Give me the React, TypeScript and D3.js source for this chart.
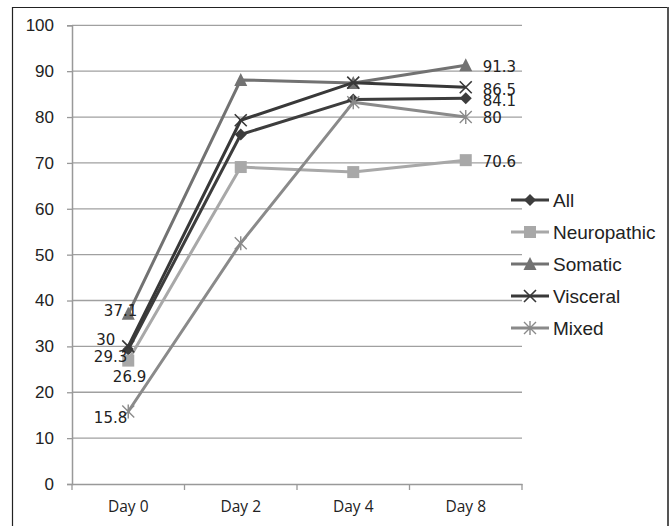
import React, { useRef, useEffect } from 'react';
import * as d3 from 'd3';

// categories and series
const days = ['Day 0', 'Day 2', 'Day 4', 'Day 8'];
const allValues = [29.3, 76.2, 83.8, 84.1];
const neuropathicValues = [26.9, 69.1, 68.0, 70.6];
const somaticValues = [37.1, 88.1, 87.4, 91.3];
const visceralValues = [30, 79.3, 87.5, 86.5];
const mixedValues = [15.8, 52.5, 83.2, 80];
const yTicks = [0, 10, 20, 30, 40, 50, 60, 70, 80, 90, 100];

type Marker = 'diamond' | 'square' | 'triangle' | 'x' | 'star';

interface Series {
  name: string;
  values: number[];
  color: string;
  marker: Marker;
  // label offsets for first / last point (only those are labelled)
  first: [number, number];
  last: [number, number];
}

const series: Series[] = [
  { name: 'All', values: allValues, color: '#3d3d3d', marker: 'diamond', first: [-1, 7], last: [17, 3] },
  { name: 'Neuropathic', values: neuropathicValues, color: '#a8a8a8', marker: 'square', first: [18, 16], last: [17, 2] },
  { name: 'Somatic', values: somaticValues, color: '#727272', marker: 'triangle', first: [9, -3], last: [17, 2] },
  { name: 'Visceral', values: visceralValues, color: '#383838', marker: 'x', first: [-13, -7], last: [17, 3] },
  { name: 'Mixed', values: mixedValues, color: '#8a8a8a', marker: 'star', first: [-1, 6], last: [17, 1] },
];

function drawMarker(g: d3.Selection<SVGGElement, unknown, null, undefined>, kind: Marker, color: string) {
  if (kind === 'diamond') {
    g.append('path').attr('d', 'M0,-6L6,0L0,6L-6,0Z').attr('fill', color);
  } else if (kind === 'square') {
    g.append('rect').attr('x', -6).attr('y', -6).attr('width', 12).attr('height', 12).attr('fill', color);
  } else if (kind === 'triangle') {
    g.append('path').attr('d', 'M0,-7L6.5,6L-6.5,6Z').attr('fill', color);
  } else if (kind === 'x') {
    g.append('path').attr('d', 'M-6,-6L6,6M6,-6L-6,6').attr('stroke', color).attr('stroke-width', 1.6).attr('fill', 'none');
  } else {
    g.append('path').attr('d', 'M-6,-6L6,6M6,-6L-6,6M0,-7L0,7').attr('stroke', color).attr('stroke-width', 1.4).attr('fill', 'none');
  }
}

export default function App() {
  const svgRef = useRef<SVGSVGElement>(null);

  useEffect(() => {
    if (!svgRef.current) return;
    const svg = d3.select(svgRef.current);
    svg.selectAll('*').remove();

    const W = 672;
    const H = 526;
    svg.attr('width', W).attr('height', H);

    svg.append('rect').attr('width', W).attr('height', H).attr('fill', '#fff');

    // outer frame
    svg.append('path')
      .attr('d', `M12.5,${H}L12.5,7.5L668,7.5L668,${H}`)
      .attr('fill', 'none')
      .attr('stroke', '#222')
      .attr('stroke-width', 1.2);
    svg.append('line')
      .attr('x1', 668).attr('x2', 668).attr('y1', 7).attr('y2', H)
      .attr('stroke', '#555').attr('stroke-width', 2);

    const left = 72;
    const right = 522;
    const top = 25.3;
    const bottom = 484;

    const x = d3.scaleBand().domain(days).range([left, right]);
    const y = d3.scaleLinear().domain([0, 100]).range([bottom, top]);
    const cx = (d: string) => (x(d) || 0) + x.bandwidth() / 2;

    // gridlines
    svg.append('g')
      .selectAll('line')
      .data(yTicks.filter(t => t > 0))
      .enter()
      .append('line')
      .attr('x1', left).attr('x2', right)
      .attr('y1', d => y(d)).attr('y2', d => y(d))
      .attr('stroke', '#a0a0a0')
      .attr('stroke-width', 1.3);

    // y axis
    const yAxis = svg.append('g')
      .attr('transform', `translate(${left},0)`)
      .call(d3.axisLeft(y).tickValues(yTicks).tickSize(5).tickPadding(13).tickFormat(d => `${d}`));
    yAxis.select('.domain').attr('stroke', '#999').attr('stroke-width', 1.5);
    yAxis.selectAll('.tick line').attr('stroke', '#999').attr('stroke-width', 1.3);
    yAxis.selectAll('text')
      .attr('fill', '#222')
      .style('font-family', '"Liberation Sans", Arial, sans-serif')
      .style('font-size', '17px');

    // x axis
    const xAxis = svg.append('g')
      .attr('transform', `translate(0,${bottom})`)
      .call(d3.axisBottom(x).tickSize(0).tickPadding(17));
    xAxis.select('.domain').attr('stroke', '#999').attr('stroke-width', 1.5);
    xAxis.selectAll('text')
      .attr('fill', '#222')
      .style('font-family', '"Open Sans", sans-serif')
      .style('font-size', '15.5px');
    svg.append('g')
      .selectAll('line')
      .data([...days.map(d => x(d) || 0), right])
      .enter()
      .append('line')
      .attr('x1', d => d).attr('x2', d => d)
      .attr('y1', bottom).attr('y2', bottom + 6)
      .attr('stroke', '#999').attr('stroke-width', 1.3);

    const line = d3.line<number>()
      .x((_, i) => cx(days[i]))
      .y(d => y(d));

    series.forEach(s => {
      const g = svg.append('g');
      g.append('path')
        .datum(s.values)
        .attr('d', line)
        .attr('fill', 'none')
        .attr('stroke', s.color)
        .attr('stroke-width', 3)
        .attr('stroke-linejoin', 'round');
      s.values.forEach((v, i) => {
        const mg = g.append('g').attr('transform', `translate(${cx(days[i])},${y(v)})`);
        drawMarker(mg, s.marker, s.color);
      });
    });

    // data labels on first and last points
    const labels = svg.append('g')
      .style('font-family', '"DejaVu Sans", Verdana, sans-serif')
      .style('font-size', '15px')
      .attr('fill', '#222');
    series.forEach(s => {
      const n = s.values.length - 1;
      labels.append('text')
        .attr('x', cx(days[0]) + s.first[0])
        .attr('y', y(s.values[0]) + s.first[1])
        .attr('dy', '0.35em')
        .attr('text-anchor', 'end')
        .text(`${s.values[0]}`);
      labels.append('text')
        .attr('x', cx(days[n]) + s.last[0])
        .attr('y', y(s.values[n]) + s.last[1])
        .attr('dy', '0.35em')
        .text(`${s.values[n]}`);
    });

    // legend
    const legendY = d3.scalePoint().domain(series.map(s => s.name)).range([200, 328]);
    const legend = svg.append('g');
    series.forEach(s => {
      const ly = legendY(s.name) || 0;
      legend.append('line')
        .attr('x1', 511).attr('x2', 549)
        .attr('y1', ly).attr('y2', ly)
        .attr('stroke', s.color).attr('stroke-width', 3);
      const mg = legend.append('g').attr('transform', `translate(530,${ly})`);
      drawMarker(mg, s.marker, s.color);
      legend.append('text')
        .attr('x', 553)
        .attr('y', ly)
        .attr('dy', '0.35em')
        .attr('fill', '#222')
        .style('font-family', '"Liberation Sans", Arial, sans-serif')
        .style('font-size', '19px')
        .text(s.name);
    });
  }, []);

  return (
    <div style={{ position: 'absolute', left: 0, top: 0 }}>
      <svg ref={svgRef} style={{ display: 'block' }} />
    </div>
  );
}
